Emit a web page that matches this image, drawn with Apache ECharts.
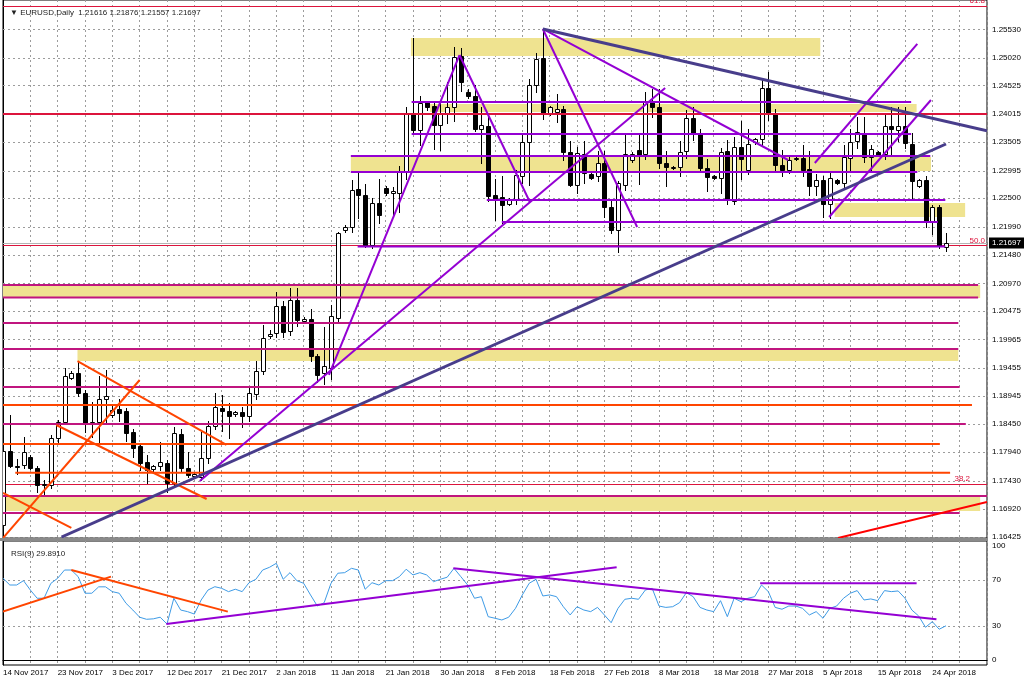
<!DOCTYPE html>
<html><head><meta charset="utf-8">
<script src="https://cdn.jsdelivr.net/npm/echarts@6/dist/echarts.min.js"></script>
<style>html,body{margin:0;padding:0;background:#fff}#c{width:1024px;height:683px}</style>
</head><body><div id="c"></div>
<script>
const dates = ['14 Nov 2017','15 Nov 2017','16 Nov 2017','17 Nov 2017','19 Nov 2017','20 Nov 2017','21 Nov 2017','22 Nov 2017','23 Nov 2017','24 Nov 2017','26 Nov 2017','27 Nov 2017','28 Nov 2017','29 Nov 2017','30 Nov 2017',
'1 Dec 2017','3 Dec 2017','4 Dec 2017','5 Dec 2017','6 Dec 2017','7 Dec 2017','8 Dec 2017','10 Dec 2017','11 Dec 2017','12 Dec 2017','13 Dec 2017','14 Dec 2017','15 Dec 2017','17 Dec 2017','18 Dec 2017','19 Dec 2017','20 Dec 2017','21 Dec 2017','22 Dec 2017','24 Dec 2017','26 Dec 2017','27 Dec 2017','28 Dec 2017','29 Dec 2017','31 Dec 2017',
'2 Jan 2018','3 Jan 2018','4 Jan 2018','5 Jan 2018','7 Jan 2018','8 Jan 2018','9 Jan 2018','10 Jan 2018','11 Jan 2018','12 Jan 2018','14 Jan 2018','15 Jan 2018','16 Jan 2018','17 Jan 2018','18 Jan 2018','19 Jan 2018','21 Jan 2018','22 Jan 2018','23 Jan 2018','24 Jan 2018','25 Jan 2018','26 Jan 2018','28 Jan 2018','29 Jan 2018','30 Jan 2018','31 Jan 2018',
'1 Feb 2018','2 Feb 2018','4 Feb 2018','5 Feb 2018','6 Feb 2018','7 Feb 2018','8 Feb 2018','9 Feb 2018','11 Feb 2018','12 Feb 2018','13 Feb 2018','14 Feb 2018','15 Feb 2018','16 Feb 2018','18 Feb 2018','19 Feb 2018','20 Feb 2018','21 Feb 2018','22 Feb 2018','23 Feb 2018','25 Feb 2018','26 Feb 2018','27 Feb 2018','28 Feb 2018',
'1 Mar 2018','2 Mar 2018','4 Mar 2018','5 Mar 2018','6 Mar 2018','7 Mar 2018','8 Mar 2018','9 Mar 2018','11 Mar 2018','12 Mar 2018','13 Mar 2018','14 Mar 2018','15 Mar 2018','16 Mar 2018','18 Mar 2018','19 Mar 2018','20 Mar 2018','21 Mar 2018','22 Mar 2018','23 Mar 2018','25 Mar 2018','26 Mar 2018','27 Mar 2018','28 Mar 2018','29 Mar 2018','30 Mar 2018',
'1 Apr 2018','2 Apr 2018','3 Apr 2018','4 Apr 2018','5 Apr 2018','6 Apr 2018','8 Apr 2018','9 Apr 2018','10 Apr 2018','11 Apr 2018','12 Apr 2018','13 Apr 2018','15 Apr 2018','16 Apr 2018','17 Apr 2018','18 Apr 2018','19 Apr 2018','20 Apr 2018','22 Apr 2018','23 Apr 2018','24 Apr 2018','25 Apr 2018','26 Apr 2018'];

const opens = [
1.1664,1.1797,1.1770,1.1771,1.1786,1.1766,1.1735,1.1735,1.1819,1.1849,
1.1928,1.1936,1.1901,1.1846,1.1848,1.1890,1.1861,1.1872,1.1868,1.1831,
1.1805,1.1776,1.1764,1.1770,1.1774,1.1738,1.1827,1.1765,1.1752,1.1750,
1.1783,1.1841,1.1874,1.1868,1.1863,1.1866,1.1859,1.1898,1.1939,1.2003,
1.2008,1.2057,1.2012,1.2068,1.2029,1.2033,1.1966,1.1936,1.1945,1.2035,
1.2193,1.2199,1.2267,1.2256,1.2166,1.2242,1.2269,1.2260,1.2259,1.2297,
1.2401,1.2372,1.2423,1.2415,1.2381,1.2403,1.2413,1.2505,1.2440,1.2433,
1.2375,1.2380,1.2255,1.2252,1.2240,1.2249,1.2290,1.2351,1.2453,1.2501,
1.2403,1.2405,1.2410,1.2333,1.2273,1.2330,1.2293,1.2289,1.2313,1.2235,
1.2193,1.2273,1.2318,1.2337,1.2330,1.2423,1.2414,1.2313,1.2305,1.2306,
1.2335,1.2393,1.2366,1.2304,1.2289,1.2287,1.2334,1.2245,1.2341,1.2301,
1.2350,1.2357,1.2448,1.2403,1.2309,1.2301,1.2320,1.2322,1.2303,1.2271,
1.2282,1.2239,1.2283,1.2278,1.2322,1.2352,1.2367,1.2324,1.2333,1.2329,
1.2379,1.2373,1.2379,1.2347,1.2272,1.2282,1.2208,1.2234,1.21616];
const highs = [
1.1808,1.1861,1.1782,1.1822,1.1790,1.1770,1.1745,1.1825,1.1852,1.1945,
1.1940,1.1958,1.1905,1.1885,1.1931,1.1942,1.1878,1.1890,1.1873,1.1835,
1.1810,1.1790,1.1772,1.1812,1.1780,1.1840,1.1835,1.1795,1.1758,1.1831,
1.1850,1.1901,1.1896,1.1883,1.1868,1.1876,1.1912,1.1958,1.2022,1.2014,
1.2082,1.2065,1.2088,1.2088,1.2036,1.2052,1.1970,1.2019,1.2058,1.2190,
1.2202,1.2283,1.2296,1.2275,1.2250,1.2285,1.2272,1.2270,1.2308,1.2413,
1.2537,1.2434,1.2425,1.2422,1.2420,1.2459,1.2522,1.2520,1.2445,1.2453,
1.2414,1.2400,1.2285,1.2290,1.2250,1.2300,1.2367,1.2463,1.2510,1.2554,
1.2415,1.2437,1.2416,1.2353,1.2342,1.2353,1.2295,1.2335,1.2335,1.2245,
1.2280,1.2363,1.2333,1.2365,1.2441,1.2445,1.2446,1.2335,1.2308,1.2352,
1.2408,1.2413,1.2375,1.2320,1.2291,1.2340,1.2355,1.2360,1.2388,1.2375,
1.2358,1.2462,1.2476,1.2410,1.2337,1.2323,1.2323,1.2345,1.2335,1.2293,
1.2290,1.2295,1.2285,1.2345,1.2375,1.2396,1.2396,1.2345,1.2335,1.2400,
1.2414,1.2414,1.2414,1.2367,1.2285,1.2290,1.2238,1.2238,1.21876];
const lows = [
1.1655,1.1767,1.1755,1.1765,1.1764,1.1723,1.1720,1.1730,1.1810,1.1845,
1.1926,1.1895,1.1831,1.1822,1.1810,1.1848,1.1858,1.1850,1.1815,1.1786,
1.1762,1.1738,1.1760,1.1762,1.1723,1.1735,1.1760,1.1750,1.1748,1.1744,
1.1775,1.1835,1.1833,1.1819,1.1860,1.1840,1.1850,1.1890,1.1935,1.1999,
1.2000,1.2000,1.2005,1.2020,1.2026,1.1957,1.1921,1.1916,1.1925,1.2030,
1.2190,1.2190,1.2215,1.2163,1.2160,1.2205,1.2255,1.2217,1.2225,1.2285,
1.2366,1.2345,1.2408,1.2338,1.2336,1.2385,1.2389,1.2442,1.2430,1.2370,
1.2313,1.2245,1.2211,1.2206,1.2238,1.2240,1.2278,1.2273,1.2440,1.2392,
1.2400,1.2387,1.2318,1.2271,1.2259,1.2278,1.2285,1.2280,1.2217,1.2187,
1.2154,1.2264,1.2315,1.2275,1.2320,1.2395,1.2305,1.2272,1.2303,1.2290,
1.2322,1.2355,1.2300,1.2262,1.2284,1.2260,1.2240,1.2240,1.2285,1.2293,
1.2348,1.2345,1.2390,1.2300,1.2290,1.2296,1.2318,1.2290,1.2255,1.2255,
1.2217,1.2215,1.2275,1.2270,1.2300,1.2340,1.2315,1.2297,1.2326,1.2320,
1.2330,1.2353,1.2340,1.2250,1.2270,1.2199,1.2185,1.2160,1.21557];
const closes = [
1.1797,1.1770,1.1768,1.1795,1.1766,1.1735,1.1737,1.1819,1.1849,1.1931,
1.1937,1.1901,1.1846,1.1848,1.1889,1.1895,1.1870,1.1865,1.1828,1.1801,
1.1775,1.1762,1.1770,1.1776,1.1738,1.1828,1.1765,1.1753,1.1755,1.1783,
1.1841,1.1876,1.1868,1.1860,1.1866,1.1859,1.1900,1.1939,1.1999,1.2007,
1.2057,1.2010,1.2068,1.2031,1.2033,1.1966,1.1933,1.1949,1.2039,1.2187,
1.2199,1.2265,1.2256,1.2166,1.2242,1.2220,1.2259,1.2262,1.2298,1.2402,
1.2372,1.2420,1.2413,1.2381,1.2403,1.2413,1.2504,1.2458,1.2433,1.2375,
1.2381,1.2253,1.2248,1.2237,1.2249,1.2292,1.2351,1.2453,1.2500,1.2403,
1.2413,1.2410,1.2333,1.2274,1.2331,1.2295,1.2287,1.2313,1.2235,1.2193,
1.2277,1.2330,1.2330,1.2326,1.2423,1.2414,1.2313,1.2306,1.2306,1.2332,
1.2393,1.2366,1.2304,1.2288,1.2286,1.2333,1.2247,1.2341,1.2320,1.2348,
1.2356,1.2447,1.2403,1.2310,1.2301,1.2318,1.2322,1.2301,1.2271,1.2283,
1.2240,1.2286,1.2277,1.2324,1.2351,1.2368,1.2324,1.2338,1.2328,1.2380,
1.2374,1.2379,1.2349,1.2280,1.2283,1.2208,1.2235,1.2164,1.21697];

const rsi = [
71.5,65.6,65.6,69.4,61.2,54,54,67,71.5,78.7,
78.7,72.9,58.4,58.4,64,64,59.8,58.4,49.6,43.7,
37.4,35.6,36,37.4,31.5,54,43.7,42.3,40.2,52.5,
61.2,64.1,62.7,59.8,61.9,59.8,67.6,70.6,78.7,81.1,
84.6,70.6,76.4,69.4,67.1,56.9,47.2,50.1,67.1,75.9,
76.4,80.2,78.7,61.9,67.6,65.6,69.4,69.4,72.9,79.4,
74.4,76.4,74.4,68.5,70.6,72.4,80.2,72.9,65.6,54,
55.4,37.9,36.5,35,37.4,45.2,56.9,67.1,70.6,56,
56.9,55.4,46.6,39.4,46.6,43.7,42.3,46,39.4,32.6,
45.2,53.1,54,53.1,61.2,62.7,47.2,46,46.6,50.1,
58.9,55.4,46,43.7,42.3,51.9,37.9,54,51,54,
55.4,65.6,59.8,46,44.4,47.2,47.2,45.2,39.4,42.3,
36.5,45.2,47.2,54,58.4,60.7,52.5,53.4,51.9,60.7,
59.8,60.4,54,43.7,38.5,28.6,33.5,26.9,29.891];
const rsiLast = 29.8910;

const priceTicks = [1.25530,1.25020,1.24525,1.24015,1.23505,1.22995,1.22500,1.21990,1.21480,1.20970,1.20475,1.19965,1.19455,1.18945,1.18450,1.17940,1.17430,1.16920,1.16425];
const rsiTicks = [0,30,70,100];
const rsiGridLevels = [30,70];

const fibValues = [1.25954,1.21651,1.17371];
const fibNames = ['61.8','50.0','38.2'];

// horizontal levels: [fromBar, toBar, price]
const crimsonLevels = [[0,144,1.24010]];
const magentaLevels = [[0,142.7,1.20942],[0,142.7,1.20718],[0,139.8,1.20260],[0,139.8,1.19794],[0,140,1.19112],[0,140.9,1.18448],[0,144,1.17156],[0,140,1.16851]];
const orangeLevels = [[0,141.8,1.18789],[0,137.1,1.18089],[1.8,138.6,1.17574]];
const purpleLevels = [[59.8,132.9,1.24226],[59.8,132.9,1.23651],[50.9,135.7,1.23257],[50.9,133.8,1.22970],[70.8,137.9,1.22467],[73,136.8,1.22072],[51.9,137.9,1.21633]];
// zones: [fromBar, toBar, low, high]
const zones = [[59.7,119.6,1.25051,1.25374],[62.5,133.7,1.24046,1.24190],[50.9,135.8,1.22988,1.23239],[121.7,140.8,1.22162,1.22413],[0,143,1.20709,1.20942],[10.9,139.8,1.19578,1.19776],[0,143,1.16887,1.17138]];
// trend lines: [bar1, price1, bar2, price2]
const navyTrends = [[8.57,1.16420,138.0,1.23472],[79.0,1.25536,144,1.23710]];
const purpleTrends = [[47.7,1.19327,66.8,1.25069],[66.8,1.25069,77.1,1.22431],[28.8,1.17425,96.9,1.24477],[79,1.25536,92.8,1.21983],[79,1.25536,114.9,1.23185],[118.8,1.23131,133.8,1.25267],[120.9,1.22162,135.8,1.24262]];
const orangeTrends = [[0,1.17210,10,1.16582],[0,1.16402,20,1.19237],[10.9,1.19578,32.7,1.18071],[7.8,1.18430,29.8,1.17102]];
const redTrends = [[122.2,1.16402,144,1.17048]];
const rsiOrangeTrends = [[0,42.3,15.8,72.9],[10,78.7,32.9,42.3]];
const rsiPurpleTrends = [[23.9,31.5,89.8,81.1],[65.9,80.2,136.6,35.6],[110.8,67.1,133.7,67.1]];

const N = dates.length;
const LAST_X = 144;
const FONT = '"Liberation Sans", Arial, sans-serif';
const GRID = '#9c9c9c';
const candleData = dates.map((d, i) => [i, opens[i], highs[i], lows[i], closes[i]]);
const hz = arr => arr.map(s => [s[0], s[2], s[1], s[2]]);
const bid = closes[N - 1];

function segSeries(segs, color, width, gi, z, dash) {
  return {
    type: 'custom', xAxisIndex: gi, yAxisIndex: gi, z: z, silent: true, clip: true,
    data: segs,
    renderItem: function (params, api) {
      const a = api.coord([api.value(0), api.value(1)]);
      const b = api.coord([api.value(2), api.value(3)]);
      let y1 = a[1], y2 = b[1];
      if (Math.abs(y1 - y2) < 0.01 && width % 2 === 1) { y1 = y2 = Math.round(y1) + 0.5; }
      return { type: 'line', shape: { x1: a[0], y1: y1, x2: b[0], y2: y2 },
        style: { stroke: color, lineWidth: width, lineDash: dash || null } };
    }
  };
}

const series = [];
series.push(segSeries(priceTicks.map(p => [0, p, LAST_X, p]), GRID, 1, 0, 1, [2, 3]));
series.push(segSeries(rsiGridLevels.map(v => [0, v, LAST_X, v]), GRID, 1, 1, 1, [2, 3]));
series.push({
  type: 'custom', xAxisIndex: 0, yAxisIndex: 0, z: 2, silent: true, clip: true, data: zones,
  renderItem: function (params, api) {
    const a = api.coord([api.value(0), api.value(3)]);
    const b = api.coord([api.value(1), api.value(2)]);
    return { type: 'rect', shape: { x: a[0], y: a[1], width: b[0] - a[0], height: b[1] - a[1] }, style: { fill: '#efe390' } };
  }
});
// fib + bid lines
series.push(segSeries(fibValues.map(v => [0, v, LAST_X, v]), '#dc143c', 1, 0, 3));
series.push(segSeries([[0, bid, LAST_X, bid]], '#b4b4b4', 1, 0, 3));
// candles
series.push({
  type: 'custom', xAxisIndex: 0, yAxisIndex: 0, z: 3, silent: true, clip: true, data: candleData,
  renderItem: function (params, api) {
    const i = api.value(0), o = api.value(1), h = api.value(2), l = api.value(3), c = api.value(4);
    const pO = api.coord([i, o]), pH = api.coord([i, h]), pL = api.coord([i, l]), pC = api.coord([i, c]);
    const X = Math.round(pO[0]) + 0.5;
    const top = Math.round(Math.min(pO[1], pC[1])) + 0.5;
    const bot = Math.round(Math.max(pO[1], pC[1])) + 0.5;
    const up = c >= o;
    return { type: 'group', children: [
      { type: 'line', shape: { x1: X, y1: Math.round(pH[1]), x2: X, y2: Math.round(pL[1]) + 1 }, style: { stroke: '#000', lineWidth: 1 } },
      { type: 'rect', shape: { x: X - 2, y: top, width: 4, height: Math.max(bot - top, 0) }, style: { fill: up ? '#fff' : '#000', stroke: '#000', lineWidth: 1 } }
    ] };
  }
});
series.push(segSeries(hz(magentaLevels), '#c0157f', 2, 0, 4));
series.push(segSeries(hz(orangeLevels), '#ff4500', 2, 0, 4));
series.push(segSeries(hz(purpleLevels), '#9400d3', 2, 0, 4));
series.push(segSeries(hz(crimsonLevels), '#dc143c', 2, 0, 4));
series.push(segSeries(orangeTrends, '#ff4500', 2, 0, 5));
series.push(segSeries(purpleTrends, '#9400d3', 2, 0, 5));
series.push(segSeries(redTrends, '#ff0000', 2, 0, 5));
series.push(segSeries(navyTrends, '#483d8b', 3, 0, 6));
// fib labels
series.push({
  type: 'custom', xAxisIndex: 0, yAxisIndex: 0, z: 7, silent: true, clip: false,
  data: fibValues.map((v, k) => [LAST_X, v, k]),
  renderItem: function (params, api) {
    const p = api.coord([api.value(0), api.value(1)]);
    const k = api.value(2);
    return { type: 'text', x: p[0] - (k === 2 ? 17 : 2), y: p[1] - 1,
      style: { text: fibNames[k], fill: '#dc143c', fontSize: 8, fontFamily: FONT, align: 'right', verticalAlign: 'bottom' } };
  }
});
// bid label on the price scale
series.push({
  type: 'custom', xAxisIndex: 0, yAxisIndex: 0, z: 8, silent: true, clip: false,
  data: [[LAST_X, bid]],
  renderItem: function (params, api) {
    const p = api.coord([api.value(0), api.value(1)]);
    return { type: 'text', x: p[0] + 2, y: Math.round(p[1]),
      style: { text: api.value(1).toFixed(5), fill: '#fff', backgroundColor: '#000', padding: [2, 4, 1, 3], fontSize: 8, fontFamily: FONT, align: 'left', verticalAlign: 'middle' } };
  }
});
// RSI
series.push({
  type: 'line', xAxisIndex: 1, yAxisIndex: 1, data: rsi.map((v, i) => [i, v]), symbol: 'none', silent: true, z: 3,
  lineStyle: { color: '#3e9be6', width: 1 }
});
series.push(segSeries(rsiOrangeTrends, '#ff4500', 2, 1, 5));
series.push(segSeries(rsiPurpleTrends, '#9400d3', 2, 1, 5));

const axisText = { fontSize: 8, color: '#000', fontFamily: FONT };
const option = {
  animation: false,
  backgroundColor: '#fff',
  textStyle: { fontFamily: FONT },
  title: [
    { text: '\u25BC EURUSD,Daily  ' + [opens, highs, lows, closes].map(a => a[N - 1].toFixed(5)).join(' '), left: 5, top: 4,
      textStyle: { fontSize: 8, fontWeight: 'normal', color: '#222', fontFamily: FONT } },
    { text: 'RSI(9) ' + rsiLast.toFixed(4), left: 6, top: 545,
      textStyle: { fontSize: 8, fontWeight: 'normal', color: '#222', fontFamily: FONT } }
  ],
  grid: [
    { left: 3, top: 0, width: 984, height: 538, show: true, borderColor: '#000', borderWidth: 1, backgroundColor: 'transparent' },
    { left: 3, top: 541, width: 984, height: 124, show: true, borderColor: '#000', borderWidth: 1, backgroundColor: 'transparent' }
  ],
  xAxis: [
    { type: 'value', gridIndex: 0, min: 0, max: LAST_X, interval: 4,
      axisLine: { show: false }, axisTick: { show: false }, axisLabel: { show: false },
      splitLine: { show: true, lineStyle: { color: GRID, type: [2, 3], width: 1 } } },
    { type: 'value', gridIndex: 1, min: 0, max: LAST_X, interval: 4,
      axisLine: { show: true, lineStyle: { color: '#000' } }, axisTick: { show: false },
      axisLabel: Object.assign({ show: true, align: 'left', margin: 4, showMaxLabel: false,
        formatter: v => (v % 8 === 0 && v < N) ? dates[v] : '' }, axisText),
      splitLine: { show: true, lineStyle: { color: GRID, type: [2, 3], width: 1 } } }
  ],
  yAxis: [
    { type: 'value', gridIndex: 0, position: 'right', min: 1.16402, max: 1.26056,
      axisLine: { show: true, lineStyle: { color: '#000' } }, axisTick: { show: false }, splitLine: { show: false },
      axisLabel: Object.assign({ customValues: priceTicks, formatter: v => v.toFixed(5), margin: 5 }, axisText) },
    { type: 'value', gridIndex: 1, position: 'right', min: -4.4, max: 104.1,
      axisLine: { show: true, lineStyle: { color: '#000' } }, axisTick: { show: false }, splitLine: { show: false },
      axisLabel: Object.assign({ customValues: rsiTicks, formatter: v => String(v), margin: 5 }, axisText) }
  ],
  graphic: [
    { type: 'rect', shape: { x: 0, y: 538, width: 988, height: 3 }, style: { fill: '#8a8a8a' }, z: 100 }
  ],
  series: series
};
const chart = echarts.init(document.getElementById('c'));
chart.setOption(option);
</script>
</body></html>
